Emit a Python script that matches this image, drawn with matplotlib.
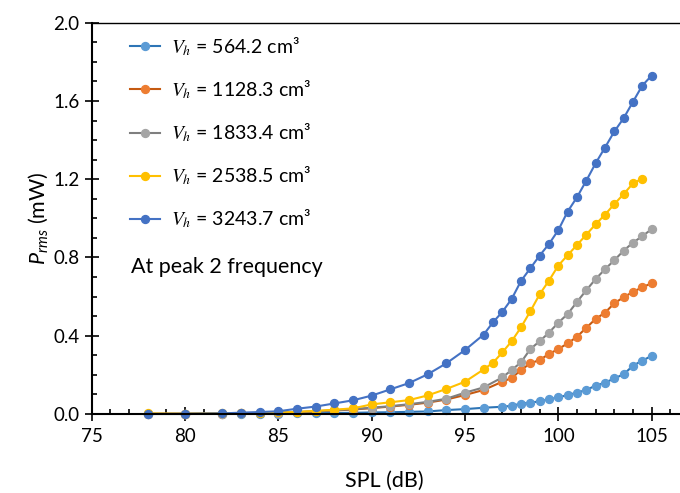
import matplotlib
matplotlib.use("Agg")
import matplotlib.pyplot as plt
from matplotlib.ticker import MultipleLocator, FormatStrFormatter

plt.rcParams['font.family'] = ['Lato', 'DejaVu Sans']
plt.rcParams['mathtext.fontset'] = 'custom'
plt.rcParams['mathtext.rm'] = 'Lato'
plt.rcParams['mathtext.it'] = 'Lato:italic'

# ---- data ----
x_a = [78, 80, 82, 83, 84, 85, 86, 87, 88, 89, 90, 91, 92, 93, 94, 95, 96,
       96.5, 97, 97.5, 98, 98.5, 99, 99.5, 100, 100.5, 101, 101.5, 102, 102.5,
       103, 103.5, 104, 104.5, 105]
x_y = x_a[:-1]
x_b = [78, 80, 82, 83, 84, 85, 86, 87, 88, 89, 90, 91, 92, 93, 94, 95, 96,
       97, 97.5, 98, 98.5, 99, 99.5, 100, 100.5, 101, 101.5, 102, 102.5,
       103, 103.5, 104, 104.5, 105]

p_564 = [0.000, 0.000, 0.001, 0.001, 0.002, 0.002, 0.003, 0.004, 0.005, 0.006,
         0.008, 0.009, 0.011, 0.013, 0.020, 0.025, 0.032, 0.037, 0.042, 0.053,
         0.058, 0.065, 0.075, 0.085, 0.097, 0.109, 0.123, 0.145, 0.160, 0.182,
         0.203, 0.247, 0.273, 0.297]
p_1128 = [0.001, 0.001, 0.002, 0.003, 0.004, 0.006, 0.009, 0.013, 0.018, 0.023,
          0.030, 0.038, 0.047, 0.058, 0.074, 0.097, 0.123, 0.165, 0.184, 0.225,
          0.259, 0.276, 0.307, 0.332, 0.361, 0.395, 0.441, 0.486, 0.518, 0.566,
          0.597, 0.624, 0.648, 0.668]
p_1833 = [0.001, 0.001, 0.002, 0.003, 0.005, 0.007, 0.010, 0.014, 0.019, 0.025,
          0.032, 0.040, 0.050, 0.062, 0.078, 0.109, 0.136, 0.187, 0.225, 0.264,
          0.332, 0.372, 0.416, 0.467, 0.511, 0.573, 0.633, 0.690, 0.740, 0.786,
          0.835, 0.876, 0.909, 0.945]
p_2538 = [0.003, 0.002, 0.003, 0.004, 0.006, 0.008, 0.011, 0.016, 0.022, 0.029,
          0.049, 0.060, 0.071, 0.095, 0.128, 0.165, 0.228, 0.262, 0.315, 0.372,
          0.443, 0.525, 0.612, 0.682, 0.759, 0.812, 0.864, 0.917, 0.970, 1.019,
          1.073, 1.124, 1.179, 1.203]
p_3243 = [0.000, 0.001, 0.003, 0.007, 0.010, 0.014, 0.027, 0.038, 0.054, 0.070,
          0.094, 0.126, 0.158, 0.203, 0.259, 0.327, 0.406, 0.469, 0.522, 0.588,
          0.680, 0.745, 0.810, 0.869, 0.940, 1.035, 1.108, 1.193, 1.282, 1.362,
          1.444, 1.512, 1.596, 1.679, 1.730]

labels = ["564.2", "1128.3", "1833.4", "2538.5", "3243.7"]

fig = plt.figure(figsize=(6.8, 4.93), dpi=100)
ax = fig.add_axes([91.7 / 680, 1 - 414 / 493, (689 - 91.7) / 680, (414 - 22.7) / 493])

series = [
    (x_b, p_564, '#2E75B6', '#5B9BD5'),
    (x_b, p_1128, '#C55A11', '#ED7D31'),
    (x_b, p_1833, '#7F7F7F', '#A5A5A5'),
    (x_y, p_2538, '#FFC000', '#FFC000'),
    (x_a, p_3243, '#4472C4', '#4472C4'),
]
for (xs, ys, lc, mc), lab in zip(series, labels):
    ax.plot(xs, ys, '-', color=lc, lw=1.5, marker='o', ms=5.7,
            mfc=mc, mec=mc, label=r"$V_h$ = " + lab + " cm³", clip_on=False)

ax.set_xlim(75, 107)
ax.set_ylim(0, 2.0)
ax.xaxis.set_major_locator(MultipleLocator(5))
ax.xaxis.set_minor_locator(MultipleLocator(1))
ax.yaxis.set_major_locator(MultipleLocator(0.4))
ax.yaxis.set_minor_locator(MultipleLocator(0.1))
ax.yaxis.set_major_formatter(FormatStrFormatter('%.1f'))

ax.tick_params(which='major', direction='inout', length=9.6, width=1.2,
               labelsize=13.5, colors='black')
ax.tick_params(which='minor', direction='in', length=3.4, width=1.2)
ax.tick_params(axis='x', which='major', pad=5)
ax.tick_params(axis='y', which='major', pad=4)

for s in ['left', 'bottom']:
    ax.spines[s].set_linewidth(1.5)
    ax.spines[s].set_color('black')
ax.spines['top'].set_linewidth(1.0)
ax.spines['top'].set_color('black')
ax.spines['right'].set_visible(False)

ax.set_xlabel("SPL (dB)", fontsize=15.5)
ax.set_ylabel(r"$P_{rms}$ (mW)", fontsize=15.5)
ax.xaxis.set_label_coords(0.49, -0.145)
ax.yaxis.set_label_coords(-0.07, 0.5)

leg = ax.legend(loc='upper left', bbox_to_anchor=(0.035, 1.013), frameon=False,
                fontsize=14, labelspacing=1.05, handlelength=1.55,
                handletextpad=0.55)
for t in leg.get_texts():
    t.set_math_fontfamily('stix')

ax.text(0.066, 0.375, "At peak 2 frequency",
        transform=ax.transAxes, fontsize=15.5, va='center', ha='left')

fig.savefig("out.png", dpi=100)
